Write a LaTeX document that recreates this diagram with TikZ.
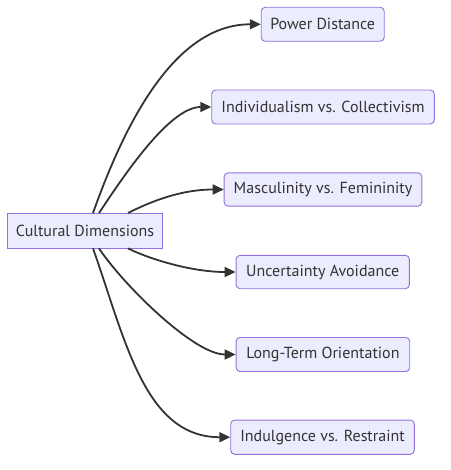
\documentclass[tikz,border=0pt]{standalone}
\usepackage{fontspec}
\setmainfont{PT Sans}
\usetikzlibrary{arrows.meta}
\definecolor{nodefill}{HTML}{ECECFF}
\definecolor{nodeline}{HTML}{9370DB}
\definecolor{txt}{HTML}{333333}
\definecolor{edge}{HTML}{333333}
\begin{document}
\begin{tikzpicture}[x=1pt,y=-1pt,
  box/.style={draw=nodeline,fill=nodefill,line width=0.9pt,text=txt,
    font=\fontsize{16}{19}\selectfont,inner sep=0pt,minimum height=34pt},
  leaf/.style={box,rounded corners=4pt},
  conn/.style={draw=edge,line width=1.8pt,-{Triangle[length=11pt,width=10pt]}}]
\useasboundingbox (0,0) rectangle (450,470);
\node[box,minimum width=155pt,minimum height=34.5pt] (root) at (85,230.7) {Cultural Dimensions};
\node[leaf,minimum width=123pt] (pd) at (322.7,24.3) {Power Distance};
\node[leaf,minimum width=222.6pt] (ic) at (323,107) {Individualism vs. Collectivism};
\node[leaf,minimum width=197.7pt,minimum height=33.3pt] (mf) at (323,189.5) {Masculinity vs. Femininity};
\node[leaf,minimum width=173.3pt,minimum height=33.4pt] (ua) at (322.7,272) {Uncertainty Avoidance};
\node[leaf,minimum width=173.7pt] (lt) at (322.9,354.5) {Long-Term Orientation};
\node[leaf,minimum width=183.6pt,minimum height=34.3pt] (ir) at (322.5,437.2) {Indulgence vs. Restraint};
\draw[conn] ([xshift=8pt]root.north) .. controls +(32,-90) and +(-86,0) .. (pd.west);
\draw[conn] ([xshift=14pt]root.north) .. controls +(24,-36) and +(-42,0) .. (ic.west);
\draw[conn] ([xshift=43pt]root.north) .. controls +(20,-10) and +(-45,0) .. (mf.west);
\draw[conn] ([xshift=43pt]root.south) .. controls +(20,10) and +(-45,0) .. (ua.west);
\draw[conn] ([xshift=14pt]root.south) .. controls +(24,36) and +(-42,0) .. (lt.west);
\draw[conn] ([xshift=8pt]root.south) .. controls +(32,90) and +(-86,0) .. (ir.west);
\end{tikzpicture}
\end{document}
